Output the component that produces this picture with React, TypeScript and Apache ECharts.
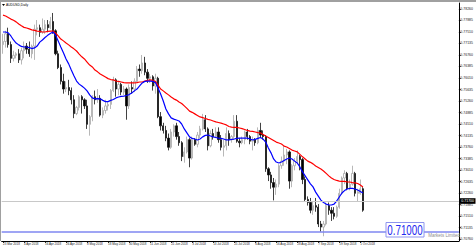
import React, { useEffect, useRef } from "react";
import * as echarts from "echarts";

const dates = [
  "23 Mar 2018","26 Mar 2018","27 Mar 2018","28 Mar 2018","29 Mar 2018","30 Mar 2018",
  "2 Apr 2018","3 Apr 2018","4 Apr 2018","5 Apr 2018","6 Apr 2018","9 Apr 2018","10 Apr 2018","11 Apr 2018","12 Apr 2018","13 Apr 2018",
  "16 Apr 2018","17 Apr 2018","18 Apr 2018","19 Apr 2018","20 Apr 2018","23 Apr 2018","24 Apr 2018","25 Apr 2018","26 Apr 2018","27 Apr 2018","30 Apr 2018",
  "1 May 2018","2 May 2018","3 May 2018","4 May 2018","7 May 2018","8 May 2018","9 May 2018","10 May 2018","11 May 2018",
  "14 May 2018","15 May 2018","16 May 2018","17 May 2018","18 May 2018","21 May 2018","22 May 2018","23 May 2018","24 May 2018","25 May 2018",
  "28 May 2018","29 May 2018","30 May 2018","31 May 2018",
  "1 Jun 2018","4 Jun 2018","5 Jun 2018","6 Jun 2018","7 Jun 2018","8 Jun 2018","11 Jun 2018","12 Jun 2018","13 Jun 2018","14 Jun 2018","15 Jun 2018",
  "18 Jun 2018","19 Jun 2018","20 Jun 2018","21 Jun 2018","22 Jun 2018","25 Jun 2018","26 Jun 2018","27 Jun 2018","28 Jun 2018","29 Jun 2018",
  "2 Jul 2018","3 Jul 2018","4 Jul 2018","5 Jul 2018","6 Jul 2018","9 Jul 2018","10 Jul 2018","11 Jul 2018","12 Jul 2018","13 Jul 2018",
  "16 Jul 2018","17 Jul 2018","18 Jul 2018","19 Jul 2018","20 Jul 2018","23 Jul 2018","24 Jul 2018","25 Jul 2018","26 Jul 2018","27 Jul 2018",
  "30 Jul 2018","31 Jul 2018",
  "1 Aug 2018","2 Aug 2018","3 Aug 2018","6 Aug 2018","7 Aug 2018","8 Aug 2018","9 Aug 2018","10 Aug 2018","13 Aug 2018","14 Aug 2018","15 Aug 2018","16 Aug 2018","17 Aug 2018",
  "20 Aug 2018","21 Aug 2018","22 Aug 2018","23 Aug 2018","24 Aug 2018","27 Aug 2018","28 Aug 2018","29 Aug 2018","30 Aug 2018","31 Aug 2018",
  "3 Sep 2018","4 Sep 2018","5 Sep 2018","6 Sep 2018","7 Sep 2018","10 Sep 2018","11 Sep 2018","12 Sep 2018","13 Sep 2018","14 Sep 2018",
  "17 Sep 2018","18 Sep 2018","19 Sep 2018","20 Sep 2018","21 Sep 2018","24 Sep 2018","25 Sep 2018","26 Sep 2018","27 Sep 2018","28 Sep 2018",
  "1 Oct 2018","2 Oct 2018",
];

const opens = [
  0.7710,0.7720,0.7745,0.7710,0.7665,0.7675,0.7680,0.7660,0.7690,0.7705,
  0.7695,0.7680,0.7705,0.7760,0.7765,0.7750,0.7760,0.7775,0.7765,0.7785,
  0.7755,0.7680,0.7635,0.7590,0.7565,0.7570,0.7560,0.7530,0.7485,0.7505,
  0.7540,0.7530,0.7510,0.7450,0.7475,0.7540,0.7530,0.7535,0.7480,0.7495,
  0.7510,0.7515,0.7560,0.7595,0.7565,0.7580,0.7555,0.7565,0.7510,0.7570,
  0.7565,0.7590,0.7630,0.7625,0.7650,0.7620,0.7600,0.7605,0.7575,0.7600,
  0.7475,0.7445,0.7430,0.7405,0.7375,0.7425,0.7445,0.7410,0.7390,0.7345,
  0.7360,0.7400,0.7340,0.7400,0.7385,0.7415,0.7435,0.7465,0.7435,0.7380,
  0.7420,0.7410,0.7425,0.7400,0.7375,0.7380,0.7420,0.7400,0.7410,0.7460,
  0.7395,0.7390,0.7400,0.7425,0.7410,0.7395,0.7400,0.7390,0.7430,0.7415,
  0.7410,0.7305,0.7285,0.7260,0.7245,0.7255,0.7315,0.7330,0.7350,0.7360,
  0.7265,0.7315,0.7330,0.7345,0.7335,0.7270,0.7205,0.7195,0.7170,0.7185,
  0.7180,0.7125,0.7115,0.7125,0.7185,0.7170,0.7160,0.7150,0.7180,0.7225,
  0.7275,0.7290,0.7240,0.7255,0.7290,0.7225,0.7225,0.7240,
];
const highs = [
  0.7745,0.7755,0.7765,0.7720,0.7690,0.7685,0.7695,0.7700,0.7720,0.7715,
  0.7720,0.7710,0.7775,0.7790,0.7775,0.7795,0.7790,0.7790,0.7800,0.7813,
  0.7760,0.7690,0.7645,0.7615,0.7590,0.7595,0.7570,0.7545,0.7510,0.7545,
  0.7545,0.7535,0.7530,0.7480,0.7545,0.7560,0.7565,0.7545,0.7505,0.7530,
  0.7525,0.7565,0.7605,0.7600,0.7590,0.7585,0.7575,0.7570,0.7580,0.7590,
  0.7600,0.7640,0.7645,0.7676,0.7670,0.7630,0.7615,0.7610,0.7615,0.7605,
  0.7490,0.7455,0.7445,0.7420,0.7435,0.7450,0.7455,0.7425,0.7395,0.7375,
  0.7410,0.7405,0.7410,0.7405,0.7425,0.7445,0.7484,0.7480,0.7440,0.7430,
  0.7435,0.7440,0.7440,0.7415,0.7400,0.7440,0.7430,0.7415,0.7480,0.7480,
  0.7405,0.7410,0.7430,0.7435,0.7415,0.7410,0.7405,0.7440,0.7455,0.7430,
  0.7415,0.7310,0.7295,0.7275,0.7270,0.7320,0.7345,0.7380,0.7370,0.7365,
  0.7320,0.7340,0.7365,0.7350,0.7340,0.7280,0.7215,0.7210,0.7200,0.7210,
  0.7190,0.7135,0.7135,0.7195,0.7195,0.7180,0.7180,0.7185,0.7240,0.7280,
  0.7300,0.7295,0.7270,0.7315,0.7295,0.7240,0.7270,0.7245,
];
const lows = [
  0.7680,0.7700,0.7700,0.7650,0.7655,0.7665,0.7650,0.7645,0.7665,0.7680,
  0.7670,0.7665,0.7660,0.7740,0.7735,0.7745,0.7745,0.7750,0.7760,0.7745,
  0.7675,0.7630,0.7580,0.7550,0.7555,0.7545,0.7515,0.7470,0.7480,0.7495,
  0.7485,0.7500,0.7435,0.7413,0.7460,0.7515,0.7520,0.7475,0.7470,0.7485,
  0.7495,0.7500,0.7555,0.7540,0.7545,0.7545,0.7545,0.7465,0.7500,0.7550,
  0.7555,0.7585,0.7605,0.7615,0.7610,0.7585,0.7585,0.7560,0.7550,0.7470,
  0.7430,0.7420,0.7395,0.7365,0.7370,0.7410,0.7400,0.7380,0.7330,0.7325,
  0.7355,0.7310,0.7335,0.7380,0.7375,0.7405,0.7430,0.7425,0.7365,0.7375,
  0.7400,0.7405,0.7390,0.7365,0.7345,0.7365,0.7380,0.7390,0.7400,0.7390,
  0.7375,0.7385,0.7385,0.7400,0.7385,0.7365,0.7380,0.7385,0.7405,0.7400,
  0.7295,0.7265,0.7240,0.7202,0.7220,0.7245,0.7305,0.7315,0.7320,0.7240,
  0.7245,0.7300,0.7320,0.7300,0.7255,0.7200,0.7185,0.7160,0.7155,0.7165,
  0.7115,0.7100,0.7085,0.7120,0.7155,0.7135,0.7140,0.7145,0.7175,0.7220,
  0.7255,0.7235,0.7235,0.7250,0.7215,0.7200,0.7220,0.7165,
];
const closes = [
  0.7720,0.7745,0.7710,0.7665,0.7675,0.7680,0.7660,0.7690,0.7705,0.7695,
  0.7680,0.7705,0.7760,0.7765,0.7750,0.7760,0.7775,0.7765,0.7785,0.7755,
  0.7680,0.7635,0.7590,0.7565,0.7570,0.7560,0.7530,0.7485,0.7505,0.7540,
  0.7530,0.7510,0.7450,0.7475,0.7540,0.7530,0.7535,0.7480,0.7495,0.7510,
  0.7515,0.7560,0.7595,0.7565,0.7580,0.7555,0.7565,0.7510,0.7570,0.7565,
  0.7590,0.7630,0.7625,0.7650,0.7620,0.7600,0.7605,0.7575,0.7600,0.7475,
  0.7445,0.7430,0.7405,0.7375,0.7425,0.7445,0.7410,0.7390,0.7345,0.7360,
  0.7400,0.7340,0.7400,0.7385,0.7415,0.7435,0.7465,0.7435,0.7380,0.7420,
  0.7410,0.7425,0.7400,0.7375,0.7380,0.7420,0.7400,0.7410,0.7460,0.7395,
  0.7390,0.7400,0.7425,0.7410,0.7395,0.7400,0.7390,0.7430,0.7415,0.7410,
  0.7305,0.7285,0.7260,0.7245,0.7255,0.7315,0.7330,0.7350,0.7360,0.7265,
  0.7315,0.7330,0.7345,0.7335,0.7270,0.7205,0.7195,0.7170,0.7185,0.7180,
  0.7125,0.7115,0.7125,0.7185,0.7170,0.7160,0.7150,0.7180,0.7225,0.7275,
  0.7290,0.7240,0.7255,0.7290,0.7225,0.7230,0.7240,0.7170,
];

// red (slow) moving average
const maSlow = [
  0.7806,0.7803,0.7798,0.7793,0.7789,0.7784,0.7777,0.7771,0.7766,0.7764,
  0.7761,0.7758,0.7756,0.7754,0.7753,0.7751,0.7751,0.7753,0.7754,0.7754,
  0.7748,0.7738,0.7728,0.7722,0.7715,0.7709,0.7702,0.7696,0.7689,0.7679,
  0.7670,0.7663,0.7653,0.7643,0.7637,0.7627,0.7621,0.7614,0.7609,0.7604,
  0.7599,0.7596,0.7595,0.7591,0.7590,0.7588,0.7586,0.7585,0.7585,0.7585,
  0.7585,0.7586,0.7588,0.7588,0.7591,0.7593,0.7595,0.7593,0.7590,0.7578,
  0.7565,0.7559,0.7552,0.7546,0.7539,0.7533,0.7529,0.7523,0.7518,0.7510,
  0.7502,0.7493,0.7489,0.7484,0.7479,0.7474,0.7472,0.7469,0.7466,0.7464,
  0.7461,0.7458,0.7456,0.7454,0.7451,0.7448,0.7443,0.7441,0.7440,0.7440,
  0.7438,0.7436,0.7433,0.7430,0.7428,0.7427,0.7425,0.7423,0.7422,0.7417,
  0.7412,0.7407,0.7402,0.7397,0.7392,0.7389,0.7386,0.7379,0.7376,0.7371,
  0.7366,0.7363,0.7360,0.7352,0.7344,0.7337,0.7330,0.7326,0.7321,0.7314,
  0.7309,0.7304,0.7298,0.7290,0.7282,0.7275,0.7270,0.7267,0.7265,0.7264,
  0.7264,0.7262,0.7262,0.7260,0.7259,0.7257,0.7252,0.7246,
];
// blue (fast) moving average
const maFast = [
  0.7751,0.7751,0.7748,0.7738,0.7725,0.7715,0.7709,0.7704,0.7702,0.7702,
  0.7700,0.7697,0.7699,0.7705,0.7718,0.7725,0.7733,0.7740,0.7746,0.7751,
  0.7741,0.7722,0.7702,0.7683,0.7663,0.7647,0.7627,0.7608,0.7591,0.7581,
  0.7575,0.7568,0.7559,0.7546,0.7536,0.7533,0.7534,0.7533,0.7528,0.7524,
  0.7524,0.7528,0.7531,0.7536,0.7539,0.7541,0.7542,0.7544,0.7547,0.7552,
  0.7559,0.7565,0.7575,0.7585,0.7590,0.7591,0.7591,0.7590,0.7586,0.7568,
  0.7549,0.7526,0.7500,0.7484,0.7471,0.7467,0.7464,0.7461,0.7451,0.7435,
  0.7422,0.7409,0.7404,0.7402,0.7399,0.7402,0.7409,0.7414,0.7415,0.7412,
  0.7409,0.7407,0.7405,0.7404,0.7402,0.7399,0.7399,0.7401,0.7402,0.7404,
  0.7405,0.7405,0.7405,0.7405,0.7402,0.7399,0.7401,0.7404,0.7407,0.7402,
  0.7392,0.7373,0.7357,0.7337,0.7327,0.7324,0.7327,0.7332,0.7337,0.7340,
  0.7337,0.7330,0.7324,0.7311,0.7295,0.7282,0.7269,0.7256,0.7246,0.7229,
  0.7216,0.7203,0.7195,0.7190,0.7187,0.7187,0.7190,0.7200,0.7213,0.7226,
  0.7234,0.7239,0.7241,0.7241,0.7239,0.7236,0.7231,0.7226,
];

const priceTicks = [
  0.7826,0.77885,0.7751,0.77135,0.7676,0.76385,0.7601,0.75635,0.7526,0.74885,
  0.7451,0.74135,0.7376,0.73385,0.7301,0.72635,0.7226,0.71885,0.7151,0.71135,0.7076,
];

const levelPrice = 0.71;
const chartTitle = "AUDUSD,Daily";
const watermark = "Markets Limited";
const shiftBars = 36; // empty chart-shift space at the right
const labelEvery = 8;

const FONT = "'Liberation Sans', Arial, sans-serif";

export default function App() {
  const ref = useRef<HTMLDivElement>(null);

  useEffect(() => {
    if (!ref.current) return;
    const chart = echarts.init(ref.current, null, { renderer: "svg" });
    const n = dates.length;
    const cats = [...dates, ...new Array(shiftBars).fill("")];
    const showIdx = (i: number) => i % labelEvery === 0 && i < n;
    const last = closes[n - 1];

    chart.setOption({
      animation: false,
      backgroundColor: "#ffffff",
      grid: { left: 0, right: 14, top: 3, bottom: 7 },
      xAxis: {
        type: "category",
        data: cats,
        boundaryGap: true,
        axisLine: { show: true, lineStyle: { color: "#000", width: 1 } },
        axisTick: {
          show: true,
          alignWithLabel: true,
          interval: (i: number) => showIdx(i),
          length: 2,
          lineStyle: { color: "#000", width: 0.8 },
        },
        axisLabel: {
          interval: (i: number) => showIdx(i),
          fontSize: 3,
          fontFamily: FONT,
          color: "#222",
          align: "left",
          margin: 1.2,
        },
        splitLine: { show: false },
      },
      yAxis: {
        type: "value",
        position: "right",
        min: 0.70696,
        max: 0.78455,
        axisLine: { show: true, lineStyle: { color: "#000", width: 1 } },
        axisTick: { show: true, length: 2, customValues: priceTicks, lineStyle: { color: "#000", width: 0.8 } },
        axisLabel: {
          customValues: priceTicks,
          formatter: (v: number) => v.toFixed(5),
          fontSize: 3.5,
          fontFamily: FONT,
          color: "#222",
          margin: 1.5,
        },
        splitLine: { show: false },
      },
      series: [
        {
          type: "candlestick",
          data: dates.map((_, i) => [opens[i], closes[i], lows[i], highs[i]]),
          barWidth: 1.8,
          itemStyle: {
            color: "#ffffff",
            color0: "#000000",
            borderColor: "#a6a6a6",
            borderColor0: "#111111",
            borderWidth: 0.8,
          },
          markLine: {
            symbol: "none",
            silent: true,
            animation: false,
            data: [
              {
                yAxis: levelPrice,
                lineStyle: { color: "#7f87f0", width: 1.6, type: "solid" },
                label: { show: false },
              },
              {
                yAxis: last,
                lineStyle: { color: "#c8c8c8", width: 1, type: "solid" },
                label: {
                  show: true,
                  position: "end",
                  distance: 1,
                  formatter: () => last.toFixed(5),
                  backgroundColor: "#000",
                  color: "#fff",
                  fontSize: 3.5,
                  fontFamily: FONT,
                  padding: [0.8, 1.5],
                },
              },
            ],
          },
          z: 2,
        },
        {
          type: "line",
          data: maSlow,
          showSymbol: false,
          lineStyle: { color: "#ff0000", width: 1.2 },
          z: 3,
        },
        {
          type: "line",
          data: maFast,
          showSymbol: false,
          lineStyle: { color: "#0000ff", width: 1.2 },
          z: 4,
        },
      ],
      graphic: [
        { type: "rect", shape: { x: 0, y: 0, width: 476, height: 2 }, style: { fill: "#a0a0a0" }, z: 100 },
        { type: "rect", shape: { x: 0, y: 0, width: 1, height: 241 }, style: { fill: "#a0a0a0" }, z: 100 },
        { type: "polygon", shape: { points: [[2, 4], [5, 4], [3.5, 6]] }, style: { fill: "#000" }, z: 100 },
        {
          type: "text",
          x: 6,
          y: 5,
          style: { text: chartTitle, fontSize: 3.3, fontFamily: FONT, fill: "#000", verticalAlign: "middle" },
          z: 100,
        },
        {
          type: "text",
          x: 460,
          y: 235.5,
          style: { text: watermark, fontSize: 4.5, fontFamily: FONT, fill: "#8c8c8c", align: "right", verticalAlign: "middle" },
          z: 99,
        },
        {
          type: "rect",
          shape: { x: 386, y: 222.5, width: 38, height: 14.5 },
          style: { fill: "#ffffff", stroke: "#8d94ee", lineWidth: 1 },
          z: 100,
        },
        {
          type: "text",
          x: 405,
          y: 230.3,
          scaleX: 0.7,
          style: {
            text: levelPrice.toFixed(5),
            fontSize: 14,
            fontFamily: FONT,
            fill: "#1f2bf0",
            align: "center",
            verticalAlign: "middle",
          },
          z: 101,
        },
      ],
    });

    return () => chart.dispose();
  }, []);

  return (
    <div
      ref={ref}
      style={{ position: "fixed", left: 0, top: 0, width: 476, height: 248, background: "#fff" }}
    />
  );
}
